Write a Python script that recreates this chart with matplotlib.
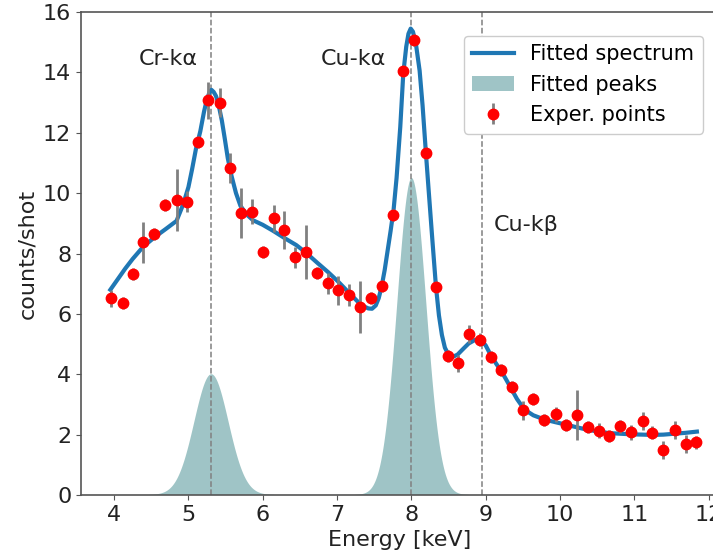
import numpy as np
import matplotlib
matplotlib.use("Agg")
import matplotlib.pyplot as plt

# ---- experimental points ----
exp_x = [3.96, 4.12, 4.25, 4.39, 4.54, 4.68, 4.84, 4.98, 5.13, 5.27, 5.42, 5.56,
         5.71, 5.86, 6.00, 6.15, 6.29, 6.44, 6.58, 6.73, 6.88, 7.01, 7.16, 7.31,
         7.46, 7.61, 7.75, 7.89, 8.04, 8.19, 8.33, 8.49, 8.62, 8.77, 8.92, 9.07,
         9.21, 9.35, 9.50, 9.64, 9.79, 9.94, 10.08, 10.23, 10.37, 10.52, 10.66,
         10.81, 10.96, 11.11, 11.24, 11.39, 11.54, 11.69, 11.83]
exp_y = [6.51, 6.36, 7.31, 8.37, 8.65, 9.61, 9.76, 9.72, 11.68, 13.07, 12.99, 10.82,
         9.35, 9.39, 8.05, 9.17, 8.79, 7.87, 8.05, 7.35, 7.01, 6.78, 6.62, 6.22,
         6.53, 6.92, 9.28, 14.06, 15.08, 11.32, 6.90, 4.60, 4.37, 5.32, 5.15, 4.56,
         4.13, 3.58, 2.80, 3.18, 2.49, 2.68, 2.33, 2.64, 2.24, 2.13, 1.96,
         2.27, 2.08, 2.46, 2.07, 1.50, 2.16, 1.68, 1.74]
exp_err = [0.28, 0.2, 0.2, 0.67, 0.2, 0.2, 1.03, 0.36, 0.2, 0.6, 0.48, 0.5,
           0.82, 0.42, 0.2, 0.45, 0.63, 0.36, 0.9, 0.2, 0.36, 0.49, 0.36, 0.87,
           0.2, 0.2, 0.2, 0.2, 0.2, 0.2, 0.2, 0.2, 0.28, 0.3, 0.2, 0.2,
           0.2, 0.2, 0.3, 0.2, 0.2, 0.25, 0.2, 0.83, 0.2, 0.25, 0.2,
           0.2, 0.25, 0.3, 0.2, 0.3, 0.3, 0.3, 0.2]

# ---- fitted spectrum ----
fit_x = [3.95, 4.05, 4.15, 4.25, 4.39, 4.55, 4.70, 4.84, 4.93, 5.00, 5.05, 5.10,
         5.16, 5.21, 5.25, 5.29, 5.31, 5.34, 5.37, 5.40, 5.45, 5.49, 5.53, 5.58,
         5.64, 5.70, 5.78, 5.87, 6.00, 6.14, 6.30, 6.45, 6.58, 6.73, 6.88, 7.01,
         7.12, 7.22, 7.30, 7.36, 7.42, 7.47, 7.52, 7.56, 7.60, 7.64, 7.68, 7.72,
         7.76, 7.80, 7.85, 7.89, 7.93, 7.96, 7.99, 8.02, 8.06, 8.11, 8.15, 8.195,
         8.23, 8.28, 8.33, 8.37, 8.41, 8.45, 8.50, 8.56, 8.62, 8.70, 8.77, 8.85,
         8.93, 9.00, 9.07, 9.14, 9.21, 9.28, 9.35, 9.42, 9.50, 9.57, 9.64, 9.79,
         9.94, 10.08, 10.23, 10.37, 10.52, 10.66, 10.81, 10.96, 11.11, 11.24,
         11.39, 11.54, 11.69, 11.84]
fit_y = [6.80, 7.15, 7.50, 7.82, 8.22, 8.55, 8.82, 9.08, 9.63, 10.20, 10.80, 11.45,
         12.05, 12.70, 13.12, 13.38, 13.42, 13.35, 13.22, 13.00, 12.40, 11.79, 11.15, 10.57,
         10.00, 9.58, 9.30, 9.10, 8.95, 8.75, 8.50, 8.28, 8.03, 7.70, 7.38, 7.08,
         6.80, 6.55, 6.35, 6.25, 6.18, 6.17, 6.28, 6.52, 6.92, 7.45, 8.10, 8.75,
         9.45, 10.50, 12.20, 13.95, 14.85, 15.28, 15.45, 15.35, 14.95, 14.06, 12.90, 11.32,
         10.15, 8.50, 6.90, 5.95, 5.30, 4.88, 4.64, 4.58, 4.65, 4.85, 5.02, 5.13,
         5.17, 4.95, 4.62, 4.35, 4.10, 3.80, 3.49, 3.18, 2.90, 2.75, 2.64, 2.50,
         2.41, 2.33, 2.24, 2.16, 2.10, 2.05, 2.03, 2.01, 2.00, 1.99,
         2.00, 2.03, 2.06, 2.10]

# ---- fitted Gaussian peaks: centre, height, sigma ----
peak_centers = [5.31, 8.005]
peak_heights = [4.0, 10.5]
peak_sigmas = [0.23, 0.195]

# ---- reference lines and labels ----
line_pos = [5.30, 8.00, 8.95]
line_names = ["Cr-k\u03b1", "Cu-k\u03b1", "Cu-k\u03b2"]
name_x = [4.73, 7.22, 9.54]
name_y = [14.23, 14.23, 8.75]

plt.rcParams['font.family'] = ['DejaVu Sans']
FS = 16

fig = plt.figure(figsize=(7.13, 5.57), dpi=100)
ax = fig.add_axes([81/713, 62/557, 646/713, 483/557])

grid = np.linspace(3.9, 12.0, 1200)
peaks_total = np.zeros_like(grid)
for c, h, s in zip(peak_centers, peak_heights, peak_sigmas):
    peaks_total += h * np.exp(-0.5 * ((grid - c) / s) ** 2)
mask = peaks_total > 0.005
fill = ax.fill_between(grid, 0, peaks_total, where=mask, color='#5f9ea0',
                       alpha=0.6, linewidth=0, label='Fitted peaks', zorder=1)

for xp in line_pos:
    ax.axvline(xp, color='#808080', ls='--', lw=1.1, zorder=2)

line, = ax.plot(fit_x, fit_y, color='#1f77b4', lw=3, label='Fitted spectrum',
                zorder=3, solid_joinstyle='round')
eb = ax.errorbar(exp_x, exp_y, yerr=exp_err, fmt='o', color='red', ms=7.5,
                 ecolor='#808080', elinewidth=2, capsize=0, label='Exper. points',
                 zorder=4)

for t, xx, yy in zip(line_names, name_x, name_y):
    ax.text(xx, yy, t, ha='center', va='baseline', fontsize=FS, color='#222222')

ax.set_xlim(3.555, 12.245)
ax.set_ylim(0, 16)
ax.set_xticks([4, 5, 6, 7, 8, 9, 10, 11, 12])
ax.set_yticks([0, 2, 4, 6, 8, 10, 12, 14, 16])
ax.tick_params(labelsize=FS, colors='#222222', color='#555555')
for sp in ax.spines.values():
    sp.set_color('#555555')
    sp.set_linewidth(1.2)

ax.set_xlabel('Energy [keV]', fontsize=FS, color='#222222')
ax.set_ylabel('counts/shot', fontsize=FS, color='#222222')
ax.xaxis.set_label_coords(0.494, -0.072)
ax.yaxis.set_label_coords(-0.067, 0.5)

leg = ax.legend([line, fill, eb], ['Fitted spectrum', 'Fitted peaks', 'Exper. points'],
                loc='upper right', bbox_to_anchor=(702.7/713, 1 - 36/557),
                bbox_transform=fig.transFigure, borderaxespad=0, fontsize=15,
                fancybox=True, edgecolor='#cccccc', framealpha=1)

fig.savefig('out.png', dpi=100)
